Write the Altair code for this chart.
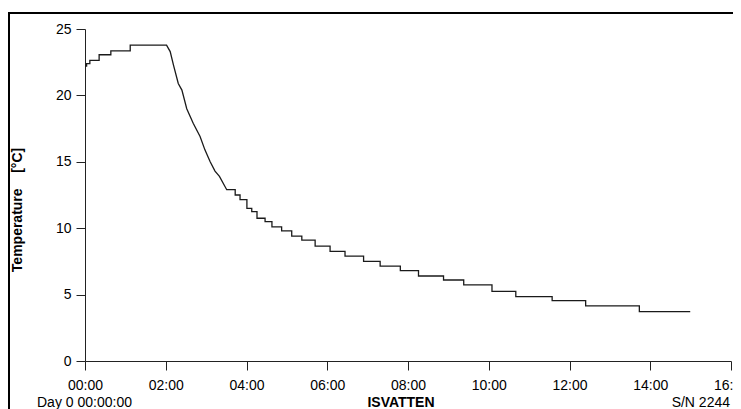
import altair as alt
import pandas as pd

# Stepped warm-up readings (hours, °C)
warm_t = [0.00, 0.04, 0.12, 0.35, 0.64, 1.12]
warm_T = [22.2, 22.4, 22.63, 23.06, 23.36, 23.79]

# Smooth cooling part (hours, °C)
cool_t = [2.02, 2.11, 2.19, 2.31, 2.40, 2.52, 2.68, 2.85, 2.97, 3.10, 3.22, 3.33, 3.51]
cool_T = [23.79, 23.3, 22.3, 20.9, 20.4, 19.0, 17.9, 16.9, 15.9, 15.0, 14.3, 13.9, 12.9]

# Stepped slow cooling readings (hours at which a new level starts, °C)
step_t = [3.72, 3.84, 4.01, 4.13, 4.26, 4.46, 4.63, 4.87, 5.12, 5.37, 5.70, 6.07, 6.44,
          6.90, 7.31, 7.81, 8.26, 8.88, 9.38, 10.08, 10.67, 11.57, 12.40, 13.73]
step_T = [12.5, 12.15, 11.5, 11.25, 10.75, 10.5, 10.1, 9.8, 9.4, 9.1, 8.65, 8.25, 7.9,
          7.5, 7.15, 6.8, 6.4, 6.1, 5.73, 5.25, 4.85, 4.54, 4.15, 3.72]
end_t = 14.99

x_ticks = [0, 2, 4, 6, 8, 10, 12, 14, 16]
y_ticks = [0, 5, 10, 15, 20, 25]

rows = []
prev = None
for t, T in zip(warm_t, warm_T):
    if prev is not None:
        rows.append((t, prev))
    rows.append((t, T))
    prev = T
for t, T in zip(cool_t, cool_T):
    rows.append((t, T))
    prev = T
for t, T in zip(step_t, step_T):
    rows.append((t, prev))
    rows.append((t, T))
    prev = T
rows.append((end_t, prev))
df = pd.DataFrame({"t": [r[0] for r in rows], "T": [r[1] for r in rows],
                   "i": list(range(len(rows)))})

FONT = "Liberation Sans"
AX = "#222222"

x = alt.X("t:Q", scale=alt.Scale(domain=[0, 16], nice=False),
          axis=alt.Axis(values=x_ticks, title=None, grid=False,
                        labelExpr="(datum.value < 10 ? '0' : '') + datum.value + ':00'",
                        tickSize=9, labelPadding=8, domainColor=AX, tickColor=AX,
                        labelColor="#000", labelFontSize=14, labelFont=FONT,
                        labelOverlap=False, labelFlush=False))
y = alt.Y("T:Q", scale=alt.Scale(domain=[0, 25], nice=False),
          axis=alt.Axis(values=y_ticks, title=None, grid=False,
                        tickSize=9, labelPadding=5, domainColor=AX, tickColor=AX,
                        labelColor="#000", labelFontSize=14, labelFont=FONT))

line = alt.Chart(df).mark_line(color="#1a1a1a", strokeWidth=1.3).encode(
    x=x, y=y, order="i:Q")

frame = alt.Chart(pd.DataFrame({"a": [0]})).mark_rect(
    fill=None, stroke="#000", strokeWidth=2, clip=False).encode(
    x=alt.value(-76), y=alt.value(-16), x2=alt.value(700), y2=alt.value(420))

def txt(s, xv, yv, size=14, **kw):
    return alt.Chart(pd.DataFrame({"s": [s]})).mark_text(
        font=FONT, fontSize=size, color="#000", clip=False, **kw).encode(
        text="s:N", x=alt.value(xv), y=alt.value(yv))

ytitle = txt("Temperature\u00a0\u00a0\u00a0\u00a0[°C]", -67, 181, size=14, angle=270,
             fontWeight="bold", align="center", baseline="middle")
day = txt("Day 0 00:00:00", -48, 378, align="left", baseline="alphabetic")
name = txt("ISVATTEN", 316, 378, align="center", baseline="alphabetic", fontWeight="bold")
sn = txt("S/N 2244", 645, 378, align="right", baseline="alphabetic")

chart = alt.layer(frame, line, ytitle, day, name, sn).properties(
    width=646, height=332,
    padding={"left": 77, "top": 21, "right": 2, "bottom": 48},
    autosize=alt.AutoSizeParams(type="none"),
    background="white",
).configure_view(stroke=None)

chart.save("out.html", embed_options={"renderer": "svg", "actions": False})
